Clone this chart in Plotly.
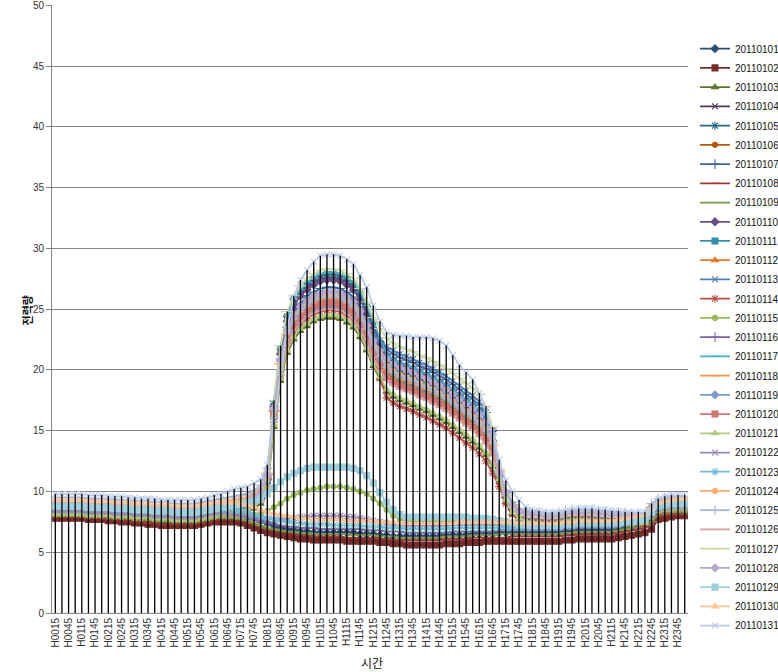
import plotly.graph_objects as go

categories = ["H0015","H0030","H0045","H0100","H0115","H0130","H0145","H0200",
"H0215","H0230","H0245","H0300","H0315","H0330","H0345","H0400",
"H0415","H0430","H0445","H0500","H0515","H0530","H0545","H0600",
"H0615","H0630","H0645","H0700","H0715","H0730","H0745","H0800",
"H0815","H0830","H0845","H0900","H0915","H0930","H0945","H1000",
"H1015","H1030","H1045","H1100","H1115","H1130","H1145","H1200",
"H1215","H1230","H1245","H1300","H1315","H1330","H1345","H1400",
"H1415","H1430","H1445","H1500","H1515","H1530","H1545","H1600",
"H1615","H1630","H1645","H1700","H1715","H1730","H1745","H1800",
"H1815","H1830","H1845","H1900","H1915","H1930","H1945","H2000",
"H2015","H2030","H2045","H2100","H2115","H2130","H2145","H2200",
"H2215","H2230","H2245","H2300","H2315","H2330","H2345","H2400"]

y_ticks = [0, 5, 10, 15, 20, 25, 30, 35, 40, 45, 50]

s20110101 = [8.3,8.3,8.3,8.3,8.3,8.2,8.2,8.2,8.2,8.1,8.1,8.1,8.0,8.0,8.0,7.9,7.9,7.9,7.8,7.8,7.8,7.8,7.9,8.0,8.1,8.1,8.1,8.1,8.0,7.9,7.8,7.6,
 7.4,7.2,7.0,6.9,6.8,6.7,6.7,6.6,6.6,6.6,6.6,6.6,6.6,6.6,6.5,6.5,
 6.5,6.4,6.4,6.3,6.3,6.3,6.3,6.3,6.3,6.3,6.3,6.4,6.4,6.4,6.4,6.5,6.5,6.5,6.5,
 6.6,6.6,6.6,6.6,6.6,
 6.6,6.6,6.6,6.6,6.6,6.7,6.7,6.8,6.8,6.8,6.8,6.8,6.8,6.9,7.0,7.1,7.2,7.3,
 7.5, 8.0,8.1,8.2,8.2,8.2]
s20110102 = [7.8,7.8,7.8,7.8,7.8,7.7,7.7,7.7,7.6,7.6,7.5,7.5,7.4,7.4,7.3,7.3,7.2,7.2,7.2,7.2,7.2,7.2,7.3,7.4,7.5,7.5,7.5,7.5,7.4,7.2,7.0,6.8,
 6.6,6.5,6.4,6.3,6.2,6.1,6.1,6.0,6.0,6.0,6.0,6.0,5.9,5.9,5.9,5.9,
 5.9,5.8,5.8,5.7,5.7,5.6,5.6,5.6,5.6,5.6,5.6,5.7,5.7,5.7,5.8,5.8,5.8,5.9,5.9,
 5.9,5.9,5.9,5.9,5.9,
 5.9,5.9,5.9,5.9,5.9,6.0,6.0,6.1,6.1,6.1,6.1,6.1,6.1,6.2,6.3,6.4,6.5,6.6,
 6.9, 7.7,7.8,7.9,8.0,8.0]
s20110103 = [8.0,8.0,8.0,8.0,8.0,7.9,7.9,7.9,7.9,7.8,7.8,7.8,7.7,7.7,7.7,7.6,7.6,7.6,7.5,7.5,7.5,7.5,7.6,7.7,7.8,7.9,8.0,8.1,8.2,8.3,8.6,9.0,
 10.1,15.3,19.1,21.4,22.5,23.2,23.6,24.0,24.2,24.3,24.3,24.2,23.9,23.5,22.7,21.6,20.3,
 19.3,
 18.2,17.8,17.5,17.3,17.1,16.8,16.6,16.3,16.0,15.7,15.3,14.9,14.5,14.1,13.6,13.0,12.0,
 10.8,9.1,8.1,7.6,7.4,
 7.3,7.3,7.2,7.2,7.3,7.4,7.5,7.5,7.5,7.5,7.4,7.4,7.3,7.3,7.3,7.2,7.2,7.2,
 7.8, 8.1,8.2,8.3,8.3,8.3]
s20110104 = [8.3,8.3,8.3,8.3,8.3,8.2,8.2,8.2,8.2,8.1,8.1,8.1,8.0,8.0,8.0,7.9,7.9,7.9,7.8,7.8,7.8,7.8,7.9,8.0,8.1,8.2,8.3,8.4,8.5,8.6,8.9,9.3,
 11.0,17.0,21.4,24.1,25.5,26.2,26.8,27.2,27.5,27.6,27.6,27.5,27.2,26.8,26.0,24.9,23.6,
 22.2,
 20.7,20.3,20.0,19.8,19.6,19.3,19.1,18.8,18.5,18.2,17.8,17.4,17.0,16.6,16.1,15.5,14.5,
 11.1,9.4,8.4,7.9,7.7,
 7.6,7.6,7.5,7.5,7.6,7.7,7.8,7.8,7.8,7.8,7.7,7.7,7.6,7.6,7.6,7.5,7.5,7.5,
 8.1, 8.4,8.5,8.6,8.6,8.6]
s20110105 = [8.5,8.5,8.5,8.5,8.5,8.4,8.4,8.4,8.4,8.3,8.3,8.3,8.2,8.2,8.2,8.1,8.1,8.1,8.0,8.0,8.0,8.0,8.1,8.2,8.3,8.4,8.5,8.6,8.7,8.8,9.1,9.5,
 11.3,17.2,21.7,24.4,25.8,26.5,27.1,27.5,27.8,27.9,27.9,27.8,27.5,27.1,26.3,25.2,23.9,
 22.1,
 20.4,20.0,19.7,19.5,19.3,19.0,18.8,18.5,18.2,17.9,17.5,17.1,16.7,16.3,15.8,15.2,14.2,
 11.3,9.6,8.6,8.1,7.9,
 7.8,7.8,7.7,7.7,7.8,7.9,8.0,8.0,8.0,8.0,7.9,7.9,7.8,7.8,7.8,7.7,7.7,7.7,
 8.3, 8.6,8.7,8.8,8.8,8.8]
s20110106 = [8.6,8.6,8.6,8.6,8.6,8.5,8.5,8.5,8.5,8.4,8.4,8.4,8.3,8.3,8.3,8.2,8.2,8.2,8.1,8.1,8.1,8.1,8.2,8.3,8.4,8.5,8.6,8.7,8.8,8.9,9.2,9.6,
 10.8,16.1,19.9,22.2,23.4,24.0,24.5,24.9,25.1,25.2,25.2,25.1,24.8,24.4,23.6,22.5,21.2,
 20.3,
 19.4,19.0,18.7,18.5,18.3,18.0,17.8,17.5,17.2,16.9,16.5,16.1,15.7,15.3,14.8,14.2,13.2,
 11.3,9.6,8.6,8.1,7.9,
 7.8,7.8,7.7,7.7,7.8,7.9,8.0,8.0,8.0,8.0,7.9,7.9,7.8,7.8,7.8,7.7,7.7,7.7,
 8.4, 8.7,8.8,8.9,8.9,8.9]
s20110107 = [8.4,8.4,8.4,8.4,8.4,8.3,8.3,8.3,8.3,8.2,8.2,8.2,8.1,8.1,8.1,8.0,8.0,8.0,7.9,7.9,7.9,7.9,8.0,8.1,8.2,8.3,8.4,8.5,8.6,8.7,9.0,9.4,
 11.0,16.7,20.9,23.5,24.8,25.5,26.1,26.4,26.7,26.8,26.8,26.7,26.4,26.0,25.2,24.1,22.8,
 22.2,
 21.7,21.3,21.0,20.8,20.6,20.3,20.1,19.8,19.5,19.2,18.8,18.4,18.0,17.6,17.1,16.5,15.0,
 11.8,9.5,8.5,8.0,7.8,
 7.7,7.7,7.6,7.6,7.7,7.8,7.9,7.9,7.9,7.9,7.8,7.8,7.7,7.7,7.7,7.6,7.6,7.6,
 8.2, 8.5,8.6,8.7,8.7,8.7]
s20110108 = [7.9,7.9,7.9,7.9,7.9,7.8,7.8,7.8,7.7,7.7,7.6,7.6,7.5,7.5,7.4,7.4,7.3,7.3,7.3,7.3,7.3,7.3,7.4,7.5,7.6,7.7,7.7,7.7,7.6,7.5,7.3,7.1,
 6.9,6.8,6.7,6.6,6.5,6.4,6.4,6.3,6.3,6.3,6.3,6.3,6.2,6.2,6.2,6.2,
 6.2,6.1,6.1,6.0,6.0,6.0,6.0,6.0,6.0,6.0,6.0,6.1,6.1,6.1,6.1,6.2,6.2,6.2,6.2,
 6.2,6.2,6.3,6.3,6.3,
 6.3,6.3,6.3,6.3,6.3,6.4,6.4,6.5,6.5,6.5,6.5,6.5,6.5,6.6,6.7,6.8,6.9,7.0,
 7.3, 7.9,8.0,8.1,8.1,8.1]
s20110109 = [8.0,8.0,8.0,8.0,8.0,7.9,7.9,7.9,7.9,7.8,7.8,7.8,7.7,7.7,7.7,7.6,7.6,7.6,7.5,7.5,7.5,7.5,7.6,7.7,7.8,7.8,7.8,7.8,7.7,7.6,7.4,7.2,
 7.0,6.9,6.8,6.7,6.7,6.6,6.6,6.5,6.5,6.5,6.5,6.5,6.5,6.4,6.4,6.4,
 6.4,6.3,6.3,6.3,6.2,6.2,6.2,6.2,6.2,6.2,6.2,6.3,6.3,6.3,6.3,6.4,6.4,6.4,6.4,
 6.5,6.5,6.5,6.5,6.5,
 6.5,6.5,6.5,6.5,6.5,6.6,6.6,6.7,6.7,6.7,6.7,6.7,6.7,6.8,6.9,7.0,7.1,7.2,
 7.5, 8.1,8.2,8.3,8.3,8.3]
s20110110 = [8.4,8.4,8.4,8.4,8.4,8.3,8.3,8.3,8.3,8.2,8.2,8.2,8.1,8.1,8.1,8.0,8.0,8.0,7.9,7.9,7.9,7.9,8.0,8.1,8.2,8.3,8.4,8.5,8.6,8.7,9.0,9.4,
 11.1,17.0,21.3,24.0,25.3,26.1,26.6,27.0,27.3,27.4,27.4,27.3,27.0,26.6,25.8,24.7,23.4,
 22.3,
 21.2,20.8,20.5,20.3,20.1,19.8,19.6,19.3,19.0,18.7,18.3,17.9,17.5,17.1,16.6,16.0,15.0,
 11.2,9.5,8.5,8.0,7.8,
 7.7,7.7,7.6,7.6,7.7,7.8,7.9,7.9,7.9,7.9,7.8,7.8,7.7,7.7,7.7,7.6,7.6,7.6,
 8.3, 8.6,8.7,8.8,8.8,8.8]
s20110111 = [8.6,8.6,8.6,8.6,8.6,8.5,8.5,8.5,8.5,8.4,8.4,8.4,8.3,8.3,8.3,8.2,8.2,8.2,8.1,8.1,8.1,8.1,8.2,8.3,8.4,8.5,8.6,8.7,8.8,8.9,9.2,9.6,
 10.9,16.2,20.1,22.5,23.6,24.3,24.8,25.2,25.4,25.5,25.5,25.4,25.1,24.7,23.9,22.8,21.5,
 20.7,
 19.9,19.5,19.2,19.0,18.8,18.5,18.3,18.0,17.7,17.4,17.0,16.6,16.2,15.8,15.3,14.7,13.7,
 11.4,9.7,8.7,8.2,8.0,
 7.9,7.9,7.8,7.8,7.9,8.0,8.1,8.1,8.1,8.1,8.0,8.0,7.9,7.9,7.9,7.8,7.8,7.8,
 8.5, 8.8,8.9,9.0,9.0,9.0]
s20110112 = [8.8,8.8,8.8,8.8,8.8,8.7,8.7,8.7,8.7,8.6,8.6,8.6,8.5,8.5,8.5,8.4,8.4,8.4,8.3,8.3,8.3,8.3,8.4,8.5,8.6,8.7,8.8,8.9,9.0,9.1,9.4,9.8,
 11.1,16.4,20.3,22.7,23.8,24.5,25.0,25.4,25.6,25.7,25.7,25.6,25.3,24.9,24.1,23.0,21.7,
 20.6,
 19.6,19.2,18.9,18.7,18.5,18.2,18.0,17.7,17.4,17.1,16.7,16.3,15.9,15.5,15.0,14.4,13.4,
 11.5,9.8,8.8,8.3,8.1,
 8.0,8.0,7.9,7.9,8.0,8.1,8.2,8.2,8.2,8.2,8.1,8.1,8.0,8.0,8.0,7.9,7.9,7.9,
 8.6, 8.9,9.0,9.1,9.1,9.1]
s20110113 = [8.5,8.5,8.5,8.5,8.5,8.4,8.4,8.4,8.4,8.3,8.3,8.3,8.2,8.2,8.2,8.1,8.1,8.1,8.0,8.0,8.0,8.0,8.1,8.2,8.3,8.4,8.5,8.6,8.7,8.8,9.1,9.5,
 11.0,16.6,20.7,23.3,24.5,25.2,25.8,26.1,26.4,26.5,26.5,26.4,26.1,25.7,24.9,23.8,23.0,
 22.4,
 21.9,21.6,21.3,21.1,20.9,20.6,20.4,20.1,19.8,19.5,19.1,18.7,18.3,17.9,17.4,16.5,15.0,
 11.6,9.6,8.6,8.1,7.9,
 7.8,7.8,7.7,7.7,7.8,7.9,8.0,8.0,8.0,8.0,7.9,7.9,7.8,7.8,7.8,7.7,7.7,7.7,
 8.4, 8.7,8.8,8.9,8.9,8.9]
s20110114 = [8.2,8.2,8.2,8.2,8.2,8.1,8.1,8.1,8.1,8.0,8.0,8.0,7.9,7.9,7.9,7.8,7.8,7.8,7.7,7.7,7.7,7.7,7.8,7.9,8.0,8.1,8.2,8.3,8.4,8.5,8.8,9.2,
 10.4,15.7,19.6,21.9,23.1,23.7,24.2,24.6,24.8,24.9,24.9,24.8,24.5,24.1,23.3,22.2,20.9,
 19.3,
 17.7,17.3,17.0,16.8,16.6,16.3,16.1,15.8,15.5,15.2,14.8,14.4,14.0,13.6,13.1,12.5,11.5,
 10.4,9.0,8.1,7.7,7.5,
 7.4,7.4,7.3,7.3,7.4,7.5,7.6,7.6,7.6,7.6,7.5,7.5,7.4,7.4,7.4,7.3,7.3,7.3,
 8.0, 8.3,8.4,8.5,8.5,8.5]
s20110115 = [8.1,8.1,8.1,8.1,8.1,8.0,8.0,8.0,8.0,7.9,7.9,7.9,7.8,7.8,7.8,7.7,7.7,7.7,7.6,7.6,7.6,7.6,7.7,7.8,7.9,8.0,8.0,8.0,8.0,8.0,8.1,8.2,
 8.4,8.7,9.0,9.4,9.7,9.9,10.1,10.2,10.3,10.4,10.4,10.4,10.3,10.2,10.0,9.8,
 9.4,9.0,8.5,8.0,7.7,7.6,7.5,7.5,7.5,7.5,7.5,7.5,7.5,7.5,7.5,7.4,7.4,7.4,7.3,
 7.3,7.2,7.2,7.1,7.1,
 7.0,7.0,7.0,7.0,7.0,7.1,7.1,7.2,7.2,7.2,7.2,7.2,7.2,7.2,7.3,7.3,7.4,7.5,
 7.9, 8.4,8.5,8.5,8.5,8.5]
s20110116 = [8.3,8.3,8.3,8.3,8.3,8.2,8.2,8.2,8.2,8.1,8.1,8.1,8.0,8.0,8.0,7.9,7.9,7.9,7.8,7.8,7.8,7.8,7.9,8.0,8.1,8.1,8.1,8.1,8.0,7.9,7.7,7.5,
 7.4,7.3,7.2,7.1,7.1,7.0,7.0,7.0,6.9,6.9,6.9,6.9,6.9,6.9,6.9,6.8,
 6.8,6.8,6.7,6.7,6.7,6.6,6.6,6.6,6.6,6.6,6.6,6.6,6.7,6.7,6.7,6.7,6.7,6.7,6.7,
 6.8,6.8,6.8,6.8,6.8,
 6.8,6.8,6.8,6.8,6.8,6.9,6.9,7.0,7.0,7.0,7.0,7.0,7.0,7.1,7.2,7.3,7.4,7.5,
 7.9, 8.4,8.5,8.6,8.6,8.6]
s20110117 = [8.7,8.7,8.7,8.7,8.7,8.6,8.6,8.6,8.6,8.5,8.5,8.5,8.4,8.4,8.4,8.3,8.3,8.3,8.2,8.2,8.2,8.2,8.3,8.4,8.5,8.6,8.7,8.8,8.9,9.0,9.3,9.7,
 11.5,17.4,21.8,24.5,25.9,26.6,27.2,27.6,27.9,28.0,28.0,27.9,27.6,27.2,26.4,25.3,24.0,
 22.6,
 21.3,20.9,20.6,20.4,20.2,19.9,19.7,19.4,19.1,18.8,18.4,18.0,17.6,17.2,16.7,16.1,15.1,
 11.4,9.7,8.7,8.2,8.0,
 7.9,7.9,7.8,7.8,7.9,8.0,8.1,8.1,8.1,8.1,8.0,8.0,7.9,7.9,7.9,7.8,7.8,7.8,
 8.5, 8.9,9.0,9.1,9.1,9.1]
s20110118 = [9.0,9.0,9.0,9.0,9.0,8.9,8.9,8.9,8.9,8.8,8.8,8.8,8.7,8.7,8.7,8.6,8.6,8.6,8.5,8.5,8.5,8.5,8.6,8.7,8.8,8.9,9.0,9.1,9.2,9.3,9.6,10.0,
 11.4,16.6,20.5,22.9,24.0,24.7,25.2,25.6,25.8,25.9,25.9,25.8,25.5,25.1,24.3,23.2,21.9,
 21.0,
 20.0,19.6,19.3,19.1,18.9,18.6,18.4,18.1,17.8,17.5,17.1,16.7,16.3,15.9,15.4,14.8,13.8,
 11.6,9.9,8.9,8.4,8.2,
 8.1,8.1,8.0,8.0,8.1,8.2,8.3,8.3,8.3,8.3,8.2,8.2,8.1,8.1,8.1,8.0,8.0,8.0,
 8.7, 9.1,9.2,9.3,9.3,9.3]
s20110119 = [8.6,8.6,8.6,8.6,8.6,8.5,8.5,8.5,8.5,8.4,8.4,8.4,8.3,8.3,8.3,8.2,8.2,8.2,8.1,8.1,8.1,8.1,8.2,8.3,8.4,8.5,8.6,8.7,8.8,8.9,9.2,9.6,
 10.9,16.1,20.0,22.3,23.5,24.1,24.6,25.0,25.2,25.3,25.3,25.2,24.9,24.5,23.7,22.6,21.3,
 20.8,
 20.3,19.9,19.6,19.4,19.2,18.9,18.7,18.4,18.1,17.8,17.4,17.0,16.6,16.2,15.7,15.1,14.1,
 11.4,9.7,8.7,8.2,8.0,
 7.9,7.9,7.8,7.8,7.9,8.0,8.1,8.1,8.1,8.1,8.0,8.0,7.9,7.9,7.9,7.8,7.8,7.8,
 8.5, 8.8,8.9,9.0,9.0,9.0]
s20110120 = [8.9,8.9,8.9,8.9,8.9,8.8,8.8,8.8,8.8,8.7,8.7,8.7,8.6,8.6,8.6,8.5,8.5,8.5,8.4,8.4,8.4,8.4,8.5,8.6,8.7,8.8,8.9,9.0,9.1,9.2,9.5,9.9,
 11.2,16.4,20.2,22.5,23.7,24.3,24.8,25.2,25.4,25.5,25.5,25.4,25.1,24.7,23.9,22.8,21.5,
 20.4,
 19.4,19.0,18.7,18.5,18.3,18.0,17.8,17.5,17.2,16.9,16.5,16.1,15.7,15.3,14.8,14.2,13.2,
 11.5,9.8,8.8,8.3,8.1,
 8.0,8.0,7.9,7.9,8.0,8.1,8.2,8.2,8.2,8.2,8.1,8.1,8.0,8.0,8.0,7.9,7.9,7.9,
 8.6, 9.0,9.1,9.2,9.2,9.2]
s20110121 = [8.2,8.2,8.2,8.2,8.2,8.1,8.1,8.1,8.1,8.0,8.0,8.0,7.9,7.9,7.9,7.8,7.8,7.8,7.7,7.7,7.7,7.7,7.8,7.9,8.0,8.1,8.2,8.3,8.4,8.5,8.8,9.2,
 10.3,15.5,19.3,21.6,22.7,23.4,23.8,24.2,24.4,24.5,24.5,24.4,24.1,23.7,22.9,21.8,20.5,
 19.4,
 18.4,18.0,17.7,17.5,17.3,17.0,16.8,16.5,16.2,15.9,15.5,15.1,14.7,14.3,13.8,13.2,12.2,
 11.0,9.3,8.3,7.8,7.6,
 7.5,7.5,7.4,7.4,7.5,7.6,7.7,7.7,7.7,7.7,7.6,7.6,7.5,7.5,7.5,7.4,7.4,7.4,
 8.1, 8.4,8.5,8.6,8.6,8.6]
s20110122 = [8.4,8.4,8.4,8.4,8.4,8.3,8.3,8.3,8.3,8.2,8.2,8.2,8.1,8.1,8.1,8.0,8.0,8.0,7.9,7.9,7.9,7.9,8.0,8.1,8.2,8.2,8.2,8.2,8.1,8.0,7.9,7.8,
 7.7,7.7,7.7,7.8,7.8,7.9,7.9,8.0,8.0,8.0,8.0,8.0,7.9,7.9,7.8,7.7,
 7.6,7.5,7.4,7.3,7.2,7.2,7.2,7.2,7.2,7.2,7.2,7.2,7.2,7.2,7.2,7.2,7.2,7.2,7.2,
 7.2,7.1,7.1,7.1,7.1,
 7.1,7.1,7.1,7.1,7.1,7.2,7.2,7.3,7.3,7.3,7.3,7.3,7.3,7.4,7.4,7.5,7.6,7.7,
 8.1, 8.5,8.6,8.7,8.7,8.7]
s20110123 = [8.7,8.7,8.7,8.7,8.7,8.6,8.6,8.6,8.6,8.5,8.5,8.5,8.4,8.4,8.4,8.3,8.3,8.3,8.2,8.2,8.2,8.2,8.3,8.4,8.5,8.5,8.5,8.5,8.4,8.3,8.1,7.9,
 7.8,7.7,7.6,7.5,7.4,7.4,7.3,7.3,7.3,7.3,7.2,7.2,7.2,7.2,7.2,7.1,
 7.1,7.1,7.0,7.0,7.0,6.9,6.9,6.9,6.9,6.9,6.9,6.9,7.0,7.0,7.0,7.0,7.0,7.0,7.0,
 7.0,7.0,7.0,7.0,7.0,
 7.0,7.0,7.0,7.0,7.0,7.1,7.1,7.2,7.2,7.2,7.2,7.2,7.2,7.3,7.4,7.5,7.6,7.7,
 8.2, 8.7,8.8,8.9,8.9,8.9]
s20110124 = [9.2,9.2,9.2,9.2,9.2,9.1,9.1,9.1,9.1,9.0,9.0,9.0,8.9,8.9,8.9,8.8,8.8,8.8,8.7,8.7,8.7,8.7,8.8,8.9,9.0,9.1,9.2,9.3,9.4,9.5,9.8,10.2,
 11.6,16.9,20.8,23.1,24.3,25.0,25.5,25.9,26.1,26.2,26.2,26.1,25.8,25.4,24.6,23.5,22.2,
 21.3,
 20.3,19.9,19.6,19.4,19.2,18.9,18.7,18.4,18.1,17.8,17.4,17.0,16.6,16.2,15.7,15.1,14.1,
 11.7,10.0,9.0,8.5,8.3,
 8.2,8.2,8.1,8.1,8.2,8.3,8.4,8.4,8.4,8.4,8.3,8.3,8.2,8.2,8.2,8.1,8.1,8.1,
 8.8, 9.2,9.3,9.4,9.4,9.4]
s20110125 = [9.5,9.5,9.5,9.5,9.5,9.4,9.4,9.4,9.4,9.3,9.3,9.3,9.2,9.2,9.2,9.1,9.1,9.1,9.0,9.0,9.0,9.0,9.1,9.2,9.3,9.4,9.5,9.6,9.7,9.8,10.1,10.5,
 11.9,16.9,20.7,23.0,24.2,24.8,25.3,25.7,25.9,26.0,26.0,25.9,25.6,25.2,24.4,23.3,22.0,
 21.1,
 20.2,19.8,19.5,19.3,19.1,18.8,18.6,18.3,18.0,17.7,17.3,16.9,16.5,16.1,15.6,15.0,14.0,
 11.8,10.1,9.1,8.6,8.4,
 8.3,8.3,8.2,8.2,8.3,8.4,8.5,8.5,8.5,8.5,8.4,8.4,8.3,8.3,8.3,8.2,8.2,8.2,
 9.0, 9.4,9.5,9.6,9.6,9.6]
s20110126 = [9.0,9.0,9.0,9.0,9.0,8.9,8.9,8.9,8.9,8.8,8.8,8.8,8.7,8.7,8.7,8.6,8.6,8.6,8.5,8.5,8.5,8.5,8.6,8.7,8.8,8.9,9.0,9.1,9.2,9.3,9.6,10.0,
 11.2,16.2,19.9,22.1,23.2,23.9,24.4,24.7,24.9,25.0,25.0,24.9,24.6,24.2,23.4,22.3,21.0,
 20.0,
 19.1,18.7,18.4,18.2,18.0,17.7,17.5,17.2,16.9,16.6,16.2,15.8,15.4,15.0,14.5,13.9,12.9,
 11.5,9.8,8.8,8.3,8.1,
 8.0,8.0,7.9,7.9,8.0,8.1,8.2,8.2,8.2,8.2,8.1,8.1,8.0,8.0,8.0,7.9,7.9,7.9,
 8.6, 9.0,9.1,9.2,9.2,9.2]
s20110127 = [8.6,8.6,8.6,8.6,8.6,8.5,8.5,8.5,8.5,8.4,8.4,8.4,8.3,8.3,8.3,8.2,8.2,8.2,8.1,8.1,8.1,8.1,8.2,8.3,8.4,8.5,8.6,8.7,8.8,8.9,9.2,9.6,
 11.5,17.5,22.0,24.8,26.1,26.9,27.5,27.9,28.2,28.3,28.3,28.2,27.9,27.5,26.7,25.6,24.3,
 23.4,
 22.6,22.2,21.9,21.7,21.5,21.2,21.0,20.7,20.4,20.1,19.7,19.3,18.9,18.5,18.0,17.0,15.3,
 11.8,9.7,8.7,8.2,8.0,
 7.9,7.9,7.8,7.8,7.9,8.0,8.1,8.1,8.1,8.1,8.0,8.0,7.9,7.9,7.9,7.8,7.8,7.8,
 8.6, 9.0,9.1,9.2,9.2,9.2]
s20110128 = [8.9,8.9,8.9,8.9,8.9,8.8,8.8,8.8,8.8,8.7,8.7,8.7,8.6,8.6,8.6,8.5,8.5,8.5,8.4,8.4,8.4,8.4,8.5,8.6,8.7,8.8,8.9,9.0,9.1,9.2,9.5,9.9,
 11.4,16.8,20.8,23.3,24.5,25.2,25.7,26.1,26.3,26.4,26.4,26.3,26.0,25.6,24.8,23.7,22.4,
 21.6,
 20.9,20.5,20.2,20.0,19.8,19.5,19.3,19.0,18.7,18.4,18.0,17.6,17.2,16.8,16.3,15.7,14.7,
 11.6,9.9,8.9,8.4,8.2,
 8.1,8.1,8.0,8.0,8.1,8.2,8.3,8.3,8.3,8.3,8.2,8.2,8.1,8.1,8.1,8.0,8.0,8.0,
 8.7, 9.1,9.2,9.3,9.3,9.3]
s20110129 = [8.8,8.8,8.8,8.8,8.8,8.7,8.7,8.7,8.7,8.6,8.6,8.6,8.5,8.5,8.5,8.4,8.4,8.4,8.3,8.3,8.3,8.3,8.4,8.5,8.6,8.7,8.8,8.9,9.0,9.1,9.2,9.4,
 9.8,10.3,10.8,11.2,11.5,11.7,11.9,12.0,12.0,12.0,12.0,12.0,12.0,11.9,11.7,11.3,
 10.7,9.9,9.1,8.5,8.1,7.9,7.9,7.9,7.9,7.9,7.9,7.9,7.9,7.9,7.9,7.8,7.8,7.8,7.7,
 7.6,7.5,7.4,7.3,7.3,
 7.2,7.2,7.2,7.2,7.2,7.3,7.3,7.4,7.4,7.4,7.4,7.4,7.4,7.4,7.5,7.5,7.6,7.7,
 8.3, 8.8,8.9,9.0,9.0,9.0]
s20110130 = [9.3,9.3,9.3,9.3,9.3,9.2,9.2,9.2,9.2,9.1,9.1,9.1,9.0,9.0,9.0,8.9,8.9,8.9,8.8,8.8,8.8,8.8,8.9,9.0,9.1,9.1,9.1,9.1,9.0,8.9,8.7,8.5,
 8.3,8.2,8.1,8.0,7.9,7.8,7.8,7.7,7.7,7.7,7.7,7.7,7.6,7.6,7.6,7.6,
 7.6,7.5,7.5,7.5,7.4,7.4,7.4,7.4,7.4,7.4,7.4,7.4,7.4,7.5,7.5,7.5,7.5,7.5,7.5,
 7.5,7.5,7.5,7.4,7.4,
 7.4,7.4,7.4,7.4,7.4,7.5,7.5,7.6,7.6,7.6,7.6,7.6,7.6,7.7,7.8,7.9,8.0,8.1,
 8.6, 9.1,9.2,9.3,9.4,9.4]
s20110131 = [9.8,9.8,9.8,9.8,9.8,9.7,9.7,9.7,9.6,9.6,9.6,9.5,9.5,9.4,9.4,9.4,9.3,9.3,9.3,9.3,9.3,9.3,9.4,9.5,9.7,9.8,10.0,10.2,10.3,10.4,10.7,11.0,
 12.2,15.9,19.8,23.4,26.0,27.4,28.2,28.9,29.4,29.5,29.5,29.4,29.1,28.7,27.8,26.8,25.3,
 24.0,
 23.1,22.9,22.8,22.8,22.7,22.7,22.7,22.6,22.4,22.0,21.2,20.4,19.8,19.2,18.1,16.7,14.9,
 12.6,10.9,10.0,9.3,8.7,
 8.5,8.4,8.3,8.3,8.3,8.4,8.5,8.6,8.6,8.6,8.5,8.5,8.4,8.4,8.3,8.3,8.3,8.3,
 8.5, 9.4,9.6,9.7,9.7,9.7]

series_names = ["20110101","20110102","20110103","20110104","20110105","20110106","20110107",
"20110108","20110109","20110110","20110111","20110112","20110113","20110114","20110115",
"20110116","20110117","20110118","20110119","20110120","20110121","20110122","20110123",
"20110124","20110125","20110126","20110127","20110128","20110129","20110130","20110131"]
series_values = [s20110101,s20110102,s20110103,s20110104,s20110105,s20110106,s20110107,
s20110108,s20110109,s20110110,s20110111,s20110112,s20110113,s20110114,s20110115,
s20110116,s20110117,s20110118,s20110119,s20110120,s20110121,s20110122,s20110123,
s20110124,s20110125,s20110126,s20110127,s20110128,s20110129,s20110130,s20110131]

assert all(len(v) == len(categories) for v in series_values), "length mismatch"

colors = [
 "#2C4D75","#772C2A","#5F7530","#4D3B62","#276A7C","#B65708",
 "#3C649A","#9B3B38","#7A9A45","#664F86","#3390A8","#E2792B",
 "#4F81BD","#C0504D","#9BBB59","#8064A2","#4BACC6","#F79646",
 "#7D9BC9","#CD7674","#B2CB80","#9A88B7","#74BED3","#F9AD70",
 "#A3B6DA","#D8A1A0","#C9DAA6","#B6A9CB","#9ED0DF","#FAC59A",
 "#BCCBE5"]
symbols = ["diamond","square","triangle-up","x-thin","asterisk","circle","cross-thin","line-ew","line-ew"]
sizes   = [6,6,6,6,7,5,7,6,9]

fig = go.Figure()
for k, (name, vals) in enumerate(zip(series_names, series_values)):
    c = colors[k]
    fig.add_trace(go.Scatter(
        x=categories, y=vals, name=name, mode="lines+markers", legendgroup=name,
        line=dict(color=c, width=1.75),
        marker=dict(symbol=symbols[k % 9], size=sizes[k % 9], color=c,
                    line=dict(color=c, width=1.1)),
    ))

# drop lines from the highest point of each category down to the axis
tops = [max(v[i] for v in series_values) for i in range(len(categories))]
dx, dy = [], []
for cat, t in zip(categories, tops):
    dx += [cat, cat, None]
    dy += [0, t, None]
fig.add_trace(go.Scatter(x=dx, y=dy, mode="lines", line=dict(color="black", width=1.3),
                         showlegend=False, hoverinfo="skip"))

fig.update_layout(
    template="none",
    width=778, height=672,
    margin=dict(l=52, r=90, t=5, b=59, autoexpand=False),
    paper_bgcolor="white", plot_bgcolor="white",
    font=dict(family="Liberation Sans, Noto Sans CJK KR", size=11, color="#222"),
    showlegend=True,
    legend=dict(x=1.011, xanchor="left", y=0.952, yanchor="top",
                font=dict(size=10, color="#111", family="Liberation Sans"),
                itemwidth=30, tracegroupgap=0.23, bgcolor="rgba(0,0,0,0)"),
    xaxis=dict(type="category", categoryorder="array", categoryarray=categories,
               range=[-0.5, len(categories) - 0.5],
               tickvals=categories[::2], ticktext=categories[::2], tickangle=-90,
               tickfont=dict(size=10, color="#333"),
               showgrid=False, showline=True, linecolor="#868686", linewidth=1,
               ticks="", zeroline=False, automargin=False),
    yaxis=dict(range=[0, 50.02], tickmode="array", tickvals=y_ticks,
               showgrid=True, gridcolor="#868686", gridwidth=1,
               showline=True, linecolor="#868686", linewidth=1,
               ticks="outside", ticklen=5, tickcolor="#868686",
               tickfont=dict(size=10, color="#333"), zeroline=False, automargin=False,
               ticklabeloverflow="allow"),
    annotations=[
        dict(text="시간", xref="paper", yref="paper", x=0.503, y=-0.081,
             xanchor="center", yanchor="middle", showarrow=False,
             font=dict(family="Noto Sans CJK KR", size=12, color="#111")),
        dict(text="<b>전력량</b>", xref="paper", yref="paper", x=-0.040, y=0.497,
             xanchor="center", yanchor="middle", showarrow=False, textangle=-90,
             font=dict(family="Noto Sans CJK KR", size=11, color="#111")),
    ],
)

fig.write_html("out.html", config={"displayModeBar": False},
               post_script="document.body.style.margin='0px';")
